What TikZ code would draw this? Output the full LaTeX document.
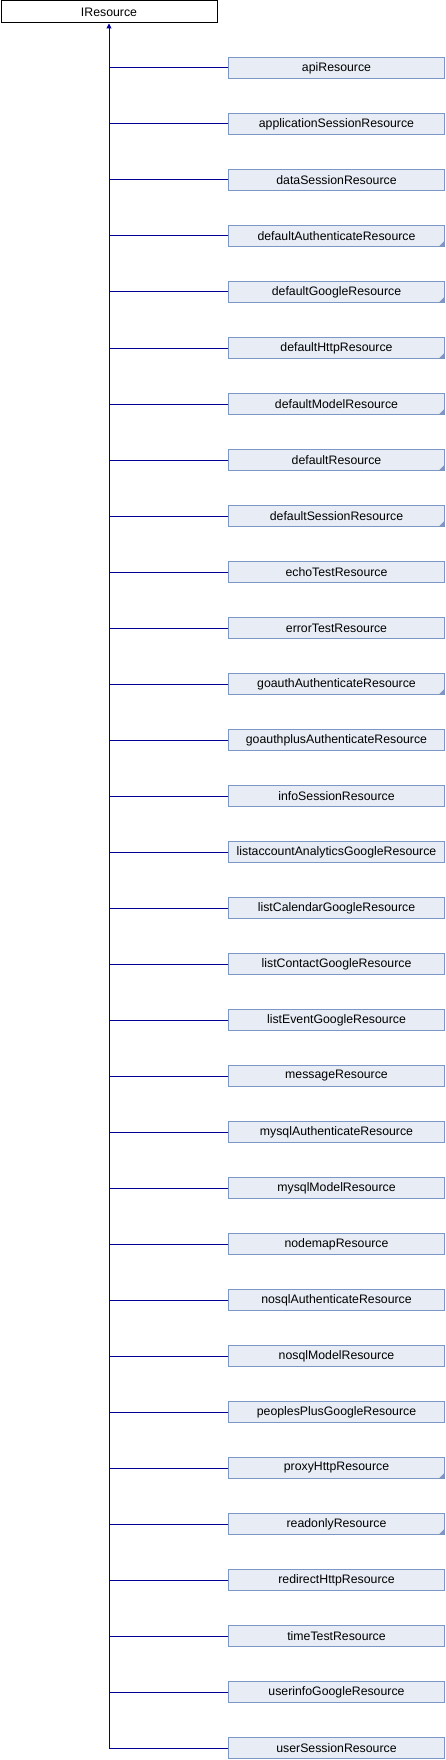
\documentclass[tikz,border=0pt]{standalone}
\usepackage{fontspec}
\setmainfont{Liberation Sans}
\usetikzlibrary{arrows.meta,calc}
\definecolor{boxfill}{RGB}{232,236,245}
\definecolor{boxline}{RGB}{124,150,200}
\definecolor{edgecol}{RGB}{0,0,150}
\tikzset{
  rootbox/.style={draw=black, fill=white, line width=1pt, minimum width=216pt, minimum height=22pt, inner sep=0pt, font=\fontsize{12.3}{14}\selectfont},
  childbox/.style={draw=boxline, fill=boxfill, line width=1pt, minimum width=216pt, minimum height=21.5pt, inner sep=0pt, font=\fontsize{12.3}{14}\selectfont},
  edge/.style={draw=edgecol, line width=1pt},
  inherit/.style={edge, -{Triangle[length=5pt,width=5pt]}},
  marker/.style={fill=boxline}
}
\begin{document}
\begin{tikzpicture}[x=1pt,y=-1pt]
\useasboundingbox (0,0) rectangle (446,1760);
\node[rootbox] (root) at (109,12) {IResource};
\foreach \name [count=\i] in {apiResource,applicationSessionResource,dataSessionResource,defaultAuthenticateResource,defaultGoogleResource,defaultHttpResource,defaultModelResource,defaultResource,defaultSessionResource,echoTestResource,errorTestResource,goauthAuthenticateResource,goauthplusAuthenticateResource,infoSessionResource,listaccountAnalyticsGoogleResource,listCalendarGoogleResource,listContactGoogleResource,listEventGoogleResource,messageResource,mysqlAuthenticateResource,mysqlModelResource,nodemapResource,nosqlAuthenticateResource,nosqlModelResource,peoplesPlusGoogleResource,proxyHttpResource,readonlyResource,redirectHttpResource,timeTestResource,userinfoGoogleResource,userSessionResource}{
  \node[childbox] (c\i) at (336.5,{68+56*(\i-1)}) {\name};
}
\foreach \i in {4,5,6,7,8,9,12,26,27}{
  \fill[marker] ($(c\i.south east)+(-0.5pt,0.5pt)$) -- ++(0pt,6pt) -- ++(-6pt,-6pt) -- cycle;
}
\foreach \i in {1,...,30}{
  \draw[edge] (c\i.west) -- (c\i.west -| root.south);
}
\draw[inherit] (c31.west) -| (root.south);
\end{tikzpicture}
\end{document}
